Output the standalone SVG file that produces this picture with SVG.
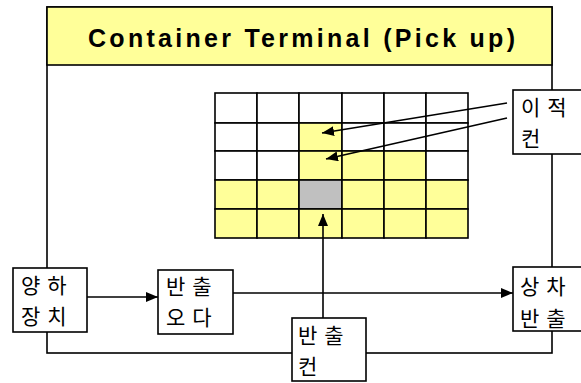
<svg xmlns="http://www.w3.org/2000/svg" width="581" height="383" viewBox="0 0 581 383">
  <style>
    .ln { stroke: #000; stroke-width: 1.6; fill: none; }
    .box { fill: #fff; stroke: #000; stroke-width: 1.6; }
    .cell { stroke: #000; stroke-width: 1.6; }
    .w { fill: #fff; }
    .y { fill: #ffff99; }
    .g { fill: #c0c0c0; }
    .kr { font-family: "Noto Sans CJK KR", "Noto Sans", sans-serif; font-size: 21px; letter-spacing: 7px; fill: #000; }
    .title { font-family: "Liberation Sans", Arial, sans-serif; font-weight: bold; font-size: 25px; fill: #000; }
  </style>
  <defs>
    <marker id="arr" viewBox="0 0 12 10" refX="12" refY="5" markerWidth="12" markerHeight="10" markerUnits="userSpaceOnUse" orient="auto">
      <path d="M0,0 L12,5 L0,10 Z" fill="#000"/>
    </marker>
  </defs>

  <!-- terminal frame with title bar -->
  <g id="terminal">
    <rect x="47" y="7" width="505" height="346" class="ln"/>
    <rect x="47" y="7" width="505" height="58" fill="#ffff99" stroke="#000" stroke-width="1.6"/>
    <text x="88" y="47" class="title" textLength="427" lengthAdjust="spacing">Container Terminal (Pick up)</text>
  </g>

  <!-- yard block: 6 columns x 5 rows -->
  <g id="yard">
    <rect class="cell w" x="215" y="93" width="42" height="30"/>
    <rect class="cell w" x="257" y="93" width="42" height="30"/>
    <rect class="cell w" x="299" y="93" width="43" height="30"/>
    <rect class="cell w" x="342" y="93" width="42" height="30"/>
    <rect class="cell w" x="384" y="93" width="42" height="30"/>
    <rect class="cell w" x="426" y="93" width="42" height="30"/>

    <rect class="cell w" x="215" y="123" width="42" height="28"/>
    <rect class="cell w" x="257" y="123" width="42" height="28"/>
    <rect class="cell y" x="299" y="123" width="43" height="28"/>
    <rect class="cell w" x="342" y="123" width="42" height="28"/>
    <rect class="cell w" x="384" y="123" width="42" height="28"/>
    <rect class="cell w" x="426" y="123" width="42" height="28"/>

    <rect class="cell w" x="215" y="151" width="42" height="29"/>
    <rect class="cell w" x="257" y="151" width="42" height="29"/>
    <rect class="cell y" x="299" y="151" width="43" height="29"/>
    <rect class="cell y" x="342" y="151" width="42" height="29"/>
    <rect class="cell y" x="384" y="151" width="42" height="29"/>
    <rect class="cell w" x="426" y="151" width="42" height="29"/>

    <rect class="cell y" x="215" y="180" width="42" height="29"/>
    <rect class="cell y" x="257" y="180" width="42" height="29"/>
    <rect class="cell g" x="299" y="180" width="43" height="29"/>
    <rect class="cell y" x="342" y="180" width="42" height="29"/>
    <rect class="cell y" x="384" y="180" width="42" height="29"/>
    <rect class="cell y" x="426" y="180" width="42" height="29"/>

    <rect class="cell y" x="215" y="209" width="42" height="29"/>
    <rect class="cell y" x="257" y="209" width="42" height="29"/>
    <rect class="cell y" x="299" y="209" width="43" height="29"/>
    <rect class="cell y" x="342" y="209" width="42" height="29"/>
    <rect class="cell y" x="384" y="209" width="42" height="29"/>
    <rect class="cell y" x="426" y="209" width="42" height="29"/>
  </g>

  <!-- connectors -->
  <g id="connectors">
    <line class="ln" x1="507" y1="103" x2="322" y2="133" marker-end="url(#arr)"/>
    <line class="ln" x1="507" y1="118" x2="326" y2="159" marker-end="url(#arr)"/>
    <line class="ln" x1="87" y1="297" x2="158" y2="297" marker-end="url(#arr)"/>
    <line class="ln" x1="233" y1="293" x2="513" y2="293" marker-end="url(#arr)"/>
    <line class="ln" x1="323" y1="318" x2="323" y2="214" marker-end="url(#arr)"/>
  </g>

  <!-- nodes: two-line labels -->
  <g id="unloading">
    <rect class="box" x="13" y="268" width="74" height="64"/>
    <text class="kr" x="21" y="293">양하</text>
    <text class="kr" x="21" y="324">장치</text>
  </g>
  <g id="order">
    <rect class="box" x="158" y="270" width="75" height="64"/>
    <text class="kr" x="166" y="294">반출</text>
    <text class="kr" x="166" y="325">오다</text>
  </g>
  <g id="outbound">
    <rect class="box" x="292" y="318" width="74" height="63"/>
    <text class="kr" x="298" y="343">반출</text>
    <text class="kr" x="298" y="374">컨</text>
  </g>
  <g id="loading">
    <rect class="box" x="513" y="267" width="74" height="64"/>
    <text class="kr" x="520" y="294">상차</text>
    <text class="kr" x="520" y="326">반출</text>
  </g>
  <g id="relocation">
    <rect class="box" x="513" y="90" width="74" height="64"/>
    <text class="kr" x="521" y="115">이적</text>
    <text class="kr" x="521" y="146">컨</text>
  </g>
</svg>
